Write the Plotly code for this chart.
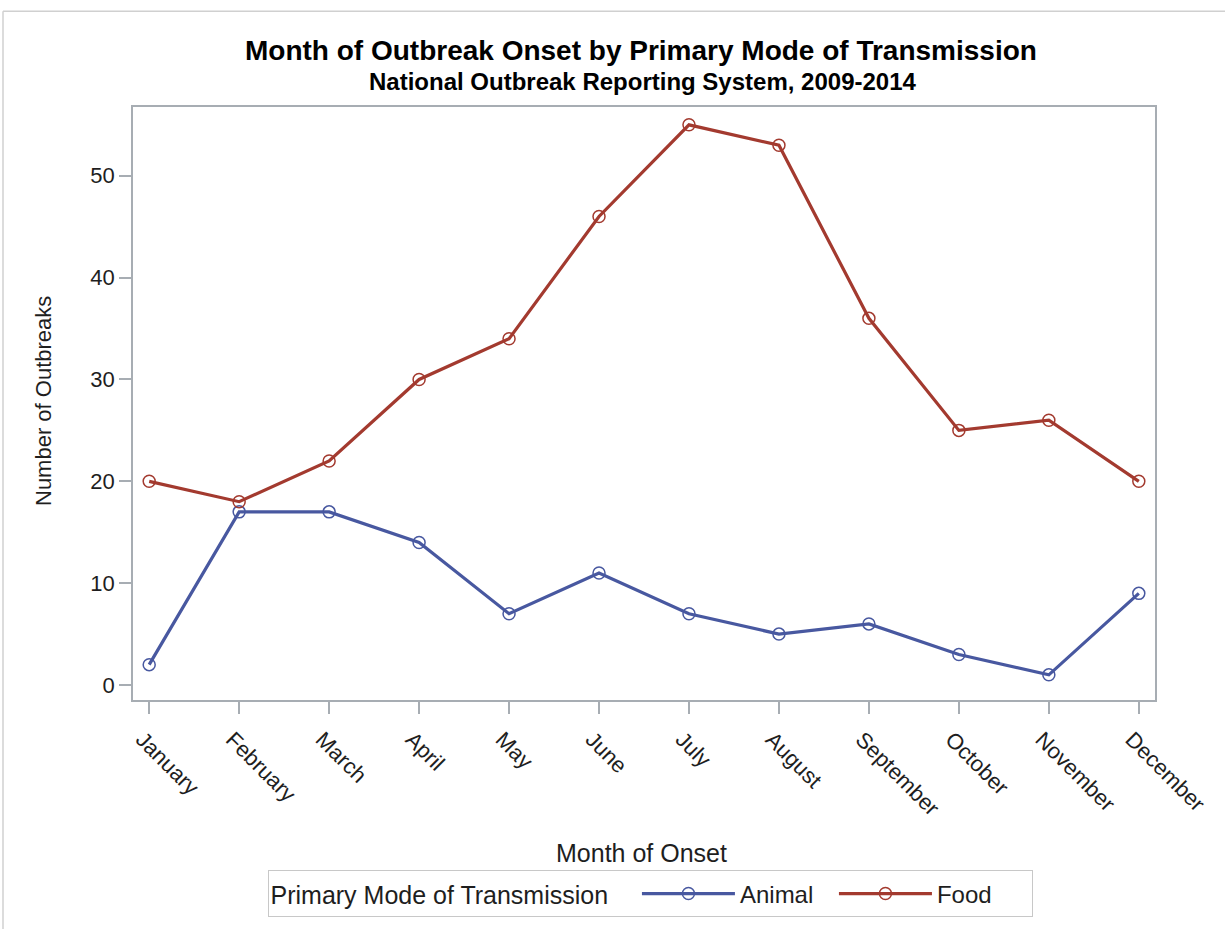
import plotly.graph_objects as go

months = ["January", "February", "March", "April", "May", "June", "July",
          "August", "September", "October", "November", "December"]
animal = [2, 17, 17, 14, 7, 11, 7, 5, 6, 3, 1, 9]
food = [20, 18, 22, 30, 34, 46, 55, 53, 36, 25, 26, 20]
y_ticks = [0, 10, 20, 30, 40, 50]

BLUE = "#4858a0"
RED = "#a33a2f"
FONT = "Liberation Sans, Arial, sans-serif"
TXT = "#1e1e1e"

W, H = 1225, 929
L, R, T, B = 133, 1155, 107, 702

def px(x):
    return (x - L) / (R - L)

def py(y):
    return (B - y) / (B - T)

fig = go.Figure()
fig.add_trace(go.Scatter(
    x=list(range(len(months))), y=animal, name="Animal", mode="lines+markers",
    line=dict(color=BLUE, width=3.2),
    marker=dict(symbol="circle-open", size=12, color=BLUE, line=dict(width=1.5, color=BLUE)),
))
fig.add_trace(go.Scatter(
    x=list(range(len(months))), y=food, name="Food", mode="lines+markers",
    line=dict(color=RED, width=3.2),
    marker=dict(symbol="circle-open", size=12, color=RED, line=dict(width=1.5, color=RED)),
))

axis_common = dict(showline=True, linecolor="#a7adb3", linewidth=1.5, mirror=True,
                   ticks="outside", ticklen=12, tickcolor="#a7adb3", tickwidth=1.5,
                   showgrid=False, zeroline=False,
                   tickfont=dict(family=FONT, size=22, color=TXT))

fig.update_layout(
    width=W, height=H,
    margin=dict(l=L, r=W - R, t=T, b=H - B),
    paper_bgcolor="white", plot_bgcolor="white",
    showlegend=True,
    xaxis=dict(range=[-0.18, 11.18], tickmode="array",
               tickvals=list(range(len(months))), ticktext=months, tickangle=45,
               ticklabelshift=-7, ticklabelstandoff=4, **axis_common),
    yaxis=dict(range=[-1.47, 56.75], tickmode="array", tickvals=y_ticks,
               ticktext=[str(v) for v in y_ticks], ticklabelstandoff=0, **axis_common),
    legend=dict(orientation="h", x=px(650), y=py(873), xanchor="center", yanchor="top",
                bordercolor="#c8c8c8", borderwidth=1,
                font=dict(family=FONT, size=24, color=TXT),
                title=dict(text="Primary Mode of Transmission&nbsp;&nbsp;&nbsp;", side="left",
                           font=dict(family=FONT, size=25, color=TXT)),
                entrywidth=89, itemwidth=93),
    annotations=[
        dict(text="<b>Month of Outbreak Onset by Primary Mode of Transmission</b>",
             x=px(641), y=py(50), xref="paper", yref="paper", showarrow=False,
             xanchor="center", yanchor="middle",
             font=dict(family=FONT, size=28, color="black")),
        dict(text="<b>National Outbreak Reporting System, 2009-2014</b>",
             x=px(643), y=py(81), xref="paper", yref="paper", showarrow=False,
             xanchor="center", yanchor="middle",
             font=dict(family=FONT, size=24, color="black")),
        dict(text="Number of Outbreaks", textangle=-90,
             x=px(43), y=py(402), xref="paper", yref="paper", showarrow=False,
             xanchor="center", yanchor="middle",
             font=dict(family=FONT, size=22, color=TXT)),
        dict(text="Month of Onset",
             x=px(641), y=py(856), xref="paper", yref="paper", showarrow=False,
             xanchor="center", yanchor="middle",
             font=dict(family=FONT, size=25, color=TXT)),
    ],
    shapes=[
        dict(type="line", xref="paper", yref="paper", x0=px(3), x1=px(1230),
             y0=py(11), y1=py(11), line=dict(color="#d0d0d0", width=1.5)),
        dict(type="line", xref="paper", yref="paper", x0=px(3), x1=px(3),
             y0=py(11), y1=py(935), line=dict(color="#d0d0d0", width=1.5)),
    ],
)

fig.write_html("out.html", config={"displayModeBar": False},
               post_script="document.body.style.margin='0px';")
